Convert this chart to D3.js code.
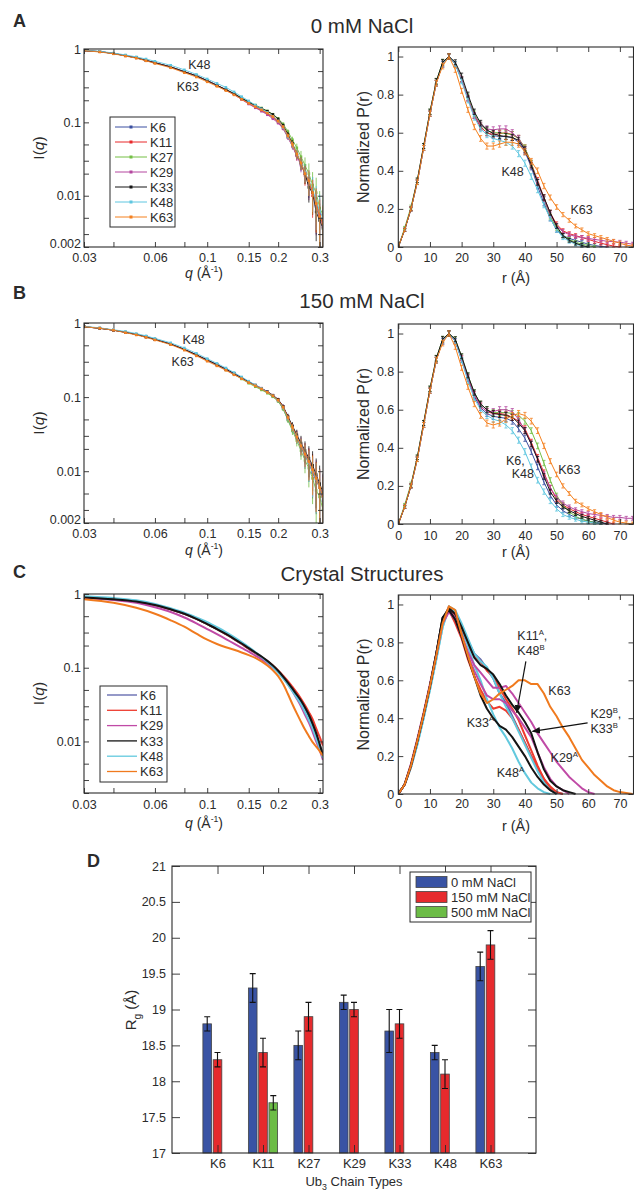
<!DOCTYPE html>
<html><head><meta charset="utf-8">
<script src="https://cdn.jsdelivr.net/npm/d3@7/dist/d3.min.js"></script>
<style>html,body{margin:0;padding:0;background:#fff;}svg{display:block;}</style>
</head><body>
<svg id="fig" width="634" height="1192"></svg>
<script>
// ================= DATA =================
const seriesNames = ["K6","K11","K27","K29","K33","K48","K63"];
const seriesColors = ["#3a4fa0","#e8292b","#74bf45","#b4479f","#141414","#5ec6e0","#f4801f"];
const crystalNames = ["K6","K11","K29","K33","K48","K63"];
const crystalColors = ["#5c62ab","#ee3b2f","#c04aa6","#141414","#62c9de","#f07a1e"];

const qTicks = [0.03,0.04,0.06,0.08,0.1,0.15,0.2,0.3];
const qTickLabels = ["0.03","","0.06","","0.1","0.15","0.2","0.3"];
const iTicks = [1,0.5,0.3,0.2,0.1,0.05,0.03,0.02,0.01,0.005,0.003,0.002];
const iMajorAB = [1,0.1,0.01,0.002];
const iMajorC = [1,0.1,0.01];
const rTicks = [0,10,20,30,40,50,60,70];
const pTicks = [0,0.2,0.4,0.6,0.8,1];
const pTickLabels = ["0","0.2","0.4","0.6","0.8","1"];

const qGrid = [0.030,0.035,0.040,0.045,0.050,0.055,0.060,0.070,0.080,0.090,0.100,0.110,0.120,0.130,0.140,0.150,0.160,0.170,0.180,0.190,0.200,0.210,0.220,0.230,0.240,0.250,0.260,0.270,0.280,0.290,0.300,0.310];

// Panel A, I(q), 0 mM NaCl
const iqA_K6  = [.95,.92,.87,.81,.76,.70,.65,.57,.49,.43,.37,.32,.28,.245,.212,.186,.166,.15,.134,.118,.102,.085,.064,.049,.036,.027,.021,.015,.012,.0075,.0058,.004];
const iqA_K11 = [.95,.92,.87,.81,.76,.70,.65,.57,.49,.43,.37,.32,.279,.243,.208,.18,.16,.145,.13,.116,.1,.083,.063,.048,.035,.028,.019,.016,.01,.008,.0052,.0042];
const iqA_K27 = [.95,.92,.87,.81,.76,.70,.65,.57,.49,.43,.37,.32,.28,.246,.214,.19,.172,.157,.143,.129,.113,.095,.075,.058,.045,.034,.026,.02,.014,.011,.0068,.0055];
const iqA_K29 = [.95,.92,.87,.81,.76,.70,.65,.57,.49,.43,.37,.32,.278,.24,.205,.178,.158,.142,.127,.112,.098,.082,.062,.047,.035,.026,.02,.014,.011,.0072,.0055,.0038];
const iqA_K33 = [.95,.92,.87,.81,.76,.70,.65,.57,.49,.43,.37,.32,.28,.247,.214,.19,.17,.155,.142,.128,.111,.091,.069,.052,.037,.028,.02,.013,.011,.006,.0046,.0036];
const iqA_K48 = [.96,.93,.88,.83,.78,.73,.68,.60,.52,.45,.39,.34,.30,.26,.224,.196,.172,.153,.137,.121,.104,.086,.064,.049,.037,.028,.021,.016,.012,.0085,.0062,.005];
const iqA_K63 = [.95,.91,.86,.80,.75,.69,.635,.555,.475,.415,.357,.31,.271,.237,.206,.182,.163,.148,.134,.12,.104,.087,.066,.05,.037,.028,.02,.016,.011,.0078,.0052,.0042];
const errIqA  = [.008,.008,.008,.008,.008,.008,.008,.009,.01,.01,.012,.012,.014,.016,.018,.02,.022,.026,.03,.035,.045,.055,.075,.1,.14,.2,.28,.38,.5,.6,.7,.75];

// Panel B, I(q), 150 mM NaCl
const iqB_K6  = [.89,.85,.80,.75,.70,.65,.60,.52,.44,.37,.315,.272,.236,.205,.18,.158,.142,.128,.115,.102,.089,.07,.05,.037,.028,.021,.016,.013,.0095,.0075,.006,.004];
const iqB_K11 = [.89,.85,.80,.75,.70,.65,.60,.52,.44,.37,.315,.272,.236,.206,.181,.16,.144,.13,.117,.105,.092,.074,.054,.039,.03,.022,.018,.014,.011,.008,.0062,.0045];
const iqB_K27 = [.89,.85,.80,.75,.70,.65,.60,.52,.44,.37,.313,.27,.233,.202,.176,.154,.138,.125,.113,.101,.088,.069,.049,.035,.026,.019,.014,.011,.008,.0055,.0045,.003];
const iqB_K29 = [.89,.85,.80,.75,.70,.65,.60,.52,.44,.37,.315,.272,.236,.206,.181,.16,.145,.132,.119,.106,.093,.075,.054,.04,.03,.023,.017,.014,.01,.0085,.006,.005];
const iqB_K33 = [.89,.85,.80,.75,.70,.65,.60,.52,.44,.372,.318,.275,.24,.209,.183,.161,.145,.131,.118,.106,.093,.075,.055,.041,.031,.024,.019,.015,.012,.009,.0068,.0052];
const iqB_K48 = [.90,.86,.81,.77,.72,.67,.62,.54,.46,.39,.33,.285,.247,.214,.187,.164,.146,.131,.117,.104,.09,.072,.052,.038,.029,.022,.017,.013,.01,.0078,.006,.0045];
const iqB_K63 = [.89,.85,.80,.74,.69,.64,.59,.51,.43,.36,.305,.264,.23,.2,.177,.157,.142,.129,.116,.104,.091,.073,.053,.039,.029,.022,.017,.0135,.0105,.008,.006,.0046];
const errIqB  = [.008,.008,.008,.008,.008,.008,.008,.009,.01,.01,.012,.012,.014,.016,.018,.02,.022,.026,.03,.035,.05,.06,.085,.12,.17,.25,.33,.45,.55,.65,.75,.8];

// Panel C, I(q), crystal structures
const qCrystal = [0.03,0.04,0.05,0.06,0.07,0.08,0.09,0.10,0.11,0.12,0.13,0.14,0.15,0.16,0.17,0.18,0.19,0.20,0.21,0.22,0.23,0.24,0.25,0.26,0.27,0.28,0.29,0.30,0.31];
const iqC_K6  = [.9,.85,.79,.71,.62,.54,.46,.39,.335,.285,.245,.21,.18,.158,.138,.12,.104,.089,.075,.062,.051,.042,.035,.028,.022,.017,.0125,.009,.0066];
const iqC_K11 = [.9,.85,.79,.71,.62,.54,.46,.39,.335,.285,.245,.21,.181,.159,.14,.123,.107,.092,.078,.066,.055,.046,.038,.031,.025,.02,.015,.0115,.0088];
const iqC_K29 = [.88,.83,.76,.66,.57,.48,.40,.335,.285,.245,.212,.186,.165,.146,.13,.115,.1,.087,.073,.06,.048,.038,.03,.023,.018,.0135,.01,.0076,.0056];
const iqC_K33 = [.9,.85,.79,.71,.62,.54,.46,.39,.335,.287,.247,.213,.184,.161,.142,.124,.107,.091,.076,.063,.052,.043,.036,.029,.023,.0175,.013,.0092,.0065];
const iqC_K48 = [.93,.88,.82,.73,.64,.56,.48,.415,.355,.305,.26,.222,.19,.163,.14,.12,.102,.086,.072,.059,.048,.039,.032,.025,.0195,.015,.011,.0082,.006];
const iqC_K63 = [.85,.76,.65,.54,.44,.36,.29,.24,.21,.19,.175,.161,.148,.136,.122,.107,.092,.077,.06,.044,.032,.024,.0185,.0145,.0118,.0098,.0085,.0074,.0064];

// P(r) grid (Å)
const rGrid = [0,2,4,6,8,10,12,14,16,18,20,22,24,26,28,30,32,34,36,38,40,42,44,46,48,50,52,54,56,58,60,62,64,66,68,70,72,74];
const errPr = [.004,.008,.01,.012,.013,.014,.015,.015,.014,.013,.013,.013,.014,.015,.016,.016,.016,.016,.016,.016,.016,.015,.015,.014,.013,.012,.011,.01,.01,.01,.01,.01,.01,.01,.01,.01,.01,.01];

// Panel A, P(r)
const prA_K6  = [0,.09,.2,.34,.52,.7,.86,.96,1,.96,.88,.78,.69,.63,.6,.585,.58,.58,.575,.55,.5,.42,.32,.23,.15,.09,.06,.045,.035,.025,.015,.008,.003,0];
const prA_K11 = [0,.09,.2,.34,.52,.7,.86,.96,1,.96,.88,.78,.69,.63,.6,.59,.595,.6,.59,.57,.52,.44,.35,.26,.18,.12,.085,.07,.06,.05,.04,.03,.02,.012,.005,0];
const prA_K27 = [0,.1,.21,.35,.53,.71,.87,.97,1,.96,.88,.79,.7,.64,.61,.6,.6,.595,.59,.57,.52,.44,.34,.25,.16,.1,.06,.04,.025,.015,.008,0];
const prA_K29 = [0,.09,.2,.34,.52,.7,.86,.96,1,.96,.88,.78,.69,.64,.62,.615,.62,.62,.6,.57,.51,.43,.34,.25,.17,.11,.08,.065,.055,.05,.045,.04,.035,.03,.028,.025,.02,.015];
const prA_K33 = [0,.09,.2,.35,.53,.71,.87,.97,1,.97,.9,.8,.71,.65,.615,.595,.585,.58,.575,.56,.51,.43,.34,.26,.18,.11,.06,.035,.02,.008,0];
const prA_K48 = [0,.09,.2,.34,.52,.7,.86,.96,1,.96,.87,.77,.68,.62,.59,.57,.56,.55,.53,.49,.44,.37,.3,.22,.15,.09,.05,.03,.015,.005,0];
const prA_K63 = [0,.09,.2,.34,.52,.7,.86,.95,1,.93,.82,.72,.63,.57,.53,.53,.54,.55,.55,.54,.5,.45,.4,.32,.26,.21,.17,.14,.11,.09,.07,.06,.05,.04,.03,.02,.01,.005];

// Panel B, P(r)
const prB_K6  = [0,.09,.2,.34,.52,.7,.86,.96,1,.96,.86,.76,.67,.61,.58,.565,.56,.555,.54,.5,.45,.38,.3,.22,.15,.1,.07,.05,.035,.025,.015,.01,.005,0];
const prB_K11 = [0,.09,.2,.34,.52,.7,.86,.96,1,.96,.87,.77,.68,.62,.59,.58,.58,.575,.56,.54,.5,.43,.35,.27,.19,.13,.1,.08,.065,.05,.04,.03,.02,.01,0];
const prB_K27 = [0,.1,.21,.35,.53,.71,.87,.97,1,.97,.88,.78,.69,.63,.6,.585,.585,.585,.58,.57,.54,.49,.41,.32,.23,.15,.1,.065,.04,.025,.015,.008,0];
const prB_K29 = [0,.09,.2,.34,.52,.7,.86,.96,1,.96,.87,.77,.68,.62,.59,.59,.6,.6,.59,.55,.49,.42,.34,.26,.19,.14,.11,.09,.075,.065,.055,.05,.045,.04,.035,.035,.03,.03];
const prB_K33 = [0,.09,.2,.35,.53,.71,.87,.97,1,.97,.88,.78,.69,.63,.6,.58,.575,.57,.56,.53,.49,.42,.34,.25,.17,.12,.09,.07,.055,.04,.03,.02,.01,0];
const prB_K48 = [0,.09,.2,.34,.52,.7,.86,.96,1,.96,.86,.75,.66,.6,.57,.55,.54,.52,.49,.44,.38,.3,.23,.17,.12,.08,.05,.035,.025,.015,.01,.005,0];
const prB_K63 = [0,.09,.2,.34,.52,.7,.86,.95,1,.93,.82,.72,.63,.57,.53,.52,.53,.55,.57,.58,.57,.54,.49,.41,.33,.26,.2,.16,.12,.1,.08,.065,.05,.035,.02,.01,.005,0];

// Panel C, P(r) crystal structures (conformers A/B)
const prC_K6   = [0,.05,.15,.28,.42,.57,.74,.92,.98,.95,.87,.81,.74,.71,.66,.61,.53,.48,.41,.34,.27,.2,.13,.07,.03,.01,0];
const prC_K11A = [0,.05,.15,.27,.41,.56,.73,.91,.99,.94,.86,.79,.73,.7,.65,.62,.56,.5,.45,.39,.31,.23,.15,.08,.03,0];
const prC_K11B = [0,.05,.14,.27,.41,.56,.72,.9,.97,.9,.82,.71,.62,.55,.49,.45,.46,.44,.4,.34,.27,.2,.14,.08,.04,.01,0];
const prC_K29A = [0,.05,.16,.29,.43,.58,.74,.92,.97,.93,.84,.75,.68,.64,.6,.56,.56,.57,.53,.48,.43,.38,.32,.27,.22,.17,.13,.09,.06,.03,.01,0];
const prC_K29B = [0,.05,.15,.28,.42,.57,.73,.9,.96,.92,.83,.73,.65,.58,.52,.5,.5,.48,.44,.4,.35,.3,.22,.14,.08,.04,.02,0];
const prC_K33A = [0,.05,.15,.28,.42,.57,.74,.93,.97,.92,.83,.72,.62,.52,.45,.4,.36,.34,.3,.25,.2,.14,.09,.05,.02,0];
const prC_K33B = [0,.05,.15,.28,.42,.57,.74,.93,.98,.95,.88,.8,.72,.68,.66,.63,.58,.52,.47,.43,.38,.32,.22,.13,.07,.04,.02,.01,0];
const prC_K48A = [0,.05,.14,.26,.4,.55,.71,.88,.98,.96,.88,.78,.68,.6,.5,.42,.35,.3,.24,.17,.11,.06,.03,.01,0];
const prC_K48B = [0,.05,.14,.26,.4,.55,.71,.88,.99,.97,.9,.82,.74,.7,.67,.61,.53,.46,.4,.33,.26,.19,.12,.06,.02,0];
const prC_K63  = [0,.05,.15,.28,.42,.57,.73,.9,.99,.97,.84,.73,.62,.53,.48,.5,.53,.55,.57,.6,.6,.58,.58,.53,.46,.41,.35,.3,.24,.18,.14,.1,.07,.04,.02,.01,.005,0];

// Panel D, Rg bars
const barCats = ["K6","K11","K27","K29","K33","K48","K63"];
const saltLabels = ["0 mM NaCl","150 mM NaCl","500 mM NaCl"];
const saltColors = ["#3953a4","#e62a2d","#6cbc46"];
const rg0    = [18.8,19.3,18.5,19.1,18.7,18.4,19.6];
const rg0Err = [0.1,0.2,0.2,0.1,0.3,0.1,0.2];
const rg150    = [18.3,18.4,18.9,19.0,18.8,18.1,19.9];
const rg150Err = [0.1,0.2,0.2,0.1,0.2,0.2,0.2];
const rg500    = [null,17.7,null,null,null,null,null];
const rg500Err = [null,0.1,null,null,null,null,null];
const rgTicks = [17,17.5,18,18.5,19,19.5,20,20.5,21];

// ================= DRAWING =================
const svg = d3.select("#fig");
const FONT = "'Liberation Sans', Arial, Helvetica, sans-serif";
const INK = "#2b2b2b";
svg.append("rect").attr("width",634).attr("height",1192).attr("fill","#fff");
const defs = svg.append("defs");
defs.append("marker").attr("id","arrow").attr("viewBox","0 0 10 10").attr("refX",9).attr("refY",5)
  .attr("markerWidth",7).attr("markerHeight",7).attr("orient","auto-start-reverse")
  .append("path").attr("d","M0,1 L10,5 L0,9 Z").attr("fill","#111");

let clipN = 0;
function clip(x0,y0,x1,y1){
  const id = "cl"+(clipN++);
  defs.append("clipPath").attr("id",id).append("rect")
    .attr("x",x0).attr("y",y0).attr("width",x1-x0).attr("height",y1-y0);
  return "url(#"+id+")";
}
function styleAxis(g,size){
  g.attr("font-family",FONT).attr("font-size",size);
  g.select(".domain").remove();
  g.selectAll("line").attr("stroke",INK).attr("stroke-width",0.9);
  g.selectAll("text").attr("fill",INK);
  return g;
}
function frame(x0,y0,x1,y1){
  svg.append("rect").attr("x",x0).attr("y",y0).attr("width",x1-x0).attr("height",y1-y0)
    .attr("fill","none").attr("stroke",INK).attr("stroke-width",1.1);
}
function rich(t,parts,base){
  let cur = 0;
  parts.forEach(([s,k])=>{
    const ts = t.append("tspan").text(s);
    let shift = 0, fs = base;
    if(k==="i") ts.attr("font-style","italic");
    if(k==="sup"){ shift = -base*0.42; fs = base*0.62; }
    if(k==="sub"){ shift = base*0.3; fs = base*0.68; }
    ts.attr("font-size",fs);
    if(shift!==cur){ ts.attr("dy",shift-cur); cur = shift; }
  });
  return t;
}
function txt(x,y,size,opts={}){
  const t = svg.append("text").attr("x",x).attr("y",y).attr("font-family",FONT)
    .attr("font-size",size).attr("fill",opts.fill||INK);
  if(opts.anchor) t.attr("text-anchor",opts.anchor);
  if(opts.weight) t.attr("font-weight",opts.weight);
  if(opts.rotate) t.attr("transform",`rotate(-90,${x},${y})`);
  return t;
}

// ---------- I(q) panel ----------
function iqPanel(p){
  const X0=84, X1=323;
  const x = d3.scaleLog().domain([0.03,0.31]).range([X0,X1]);
  const y = d3.scaleLog().domain([0.002,1]).range([p.bottom,p.top]);
  const g = svg.append("g").attr("clip-path",clip(X0,p.top,X1,p.bottom));
  p.series.forEach(s=>{
    const pts = p.q.map((q,i)=>({q, v:s.vals[i], e: p.err ? p.err[i]*s.vals[i] : 0}));
    if(p.err){
      g.append("g").selectAll("line").data(pts).join("line")
        .attr("x1",d=>x(d.q)).attr("x2",d=>x(d.q))
        .attr("y1",d=>y(Math.max(d.v-d.e,1e-4))).attr("y2",d=>y(d.v+d.e))
        .attr("stroke",s.color).attr("stroke-width",0.8);
    }
    const line = d3.line().x(d=>x(d.q)).y(d=>y(d.v));
    if(p.smooth) line.curve(d3.curveMonotoneX);
    g.append("path").datum(pts).attr("d",line).attr("fill","none")
      .attr("stroke",s.color).attr("stroke-width",p.lw).attr("stroke-linejoin","round");
    if(p.markers){
      g.append("g").selectAll("rect").data(pts).join("rect")
        .attr("x",d=>x(d.q)-1.3).attr("y",d=>y(d.v)-1.3).attr("width",2.6).attr("height",2.6)
        .attr("fill",s.color);
    }
  });
  frame(X0,p.top,X1,p.bottom);
  styleAxis(svg.append("g").attr("transform",`translate(0,${p.bottom})`)
    .call(d3.axisBottom(x).tickValues(qTicks).tickSize(-5).tickPadding(p.xPad)
      .tickFormat((d,i)=>qTickLabels[i])),12.5);
  styleAxis(svg.append("g").attr("transform",`translate(0,${p.top})`)
    .call(d3.axisTop(x).tickValues(qTicks).tickSize(-5).tickFormat("")),12.5);
  const ly = styleAxis(svg.append("g").attr("transform",`translate(${X0},0)`)
    .call(d3.axisLeft(y).tickValues(iTicks).tickSize(-5).tickPadding(3)
      .tickFormat(d=>p.majors.includes(d)?d3.format("~g")(d):"")),12.5);
  // lift the lowest label slightly, as in the original, so it clears the x labels
  ly.selectAll(".tick text").filter(d=>d===0.002).attr("dy","0.06em");
  styleAxis(svg.append("g").attr("transform",`translate(${X1},0)`)
    .call(d3.axisRight(y).tickValues(iTicks).tickSize(-5).tickFormat("")),12.5);
  rich(txt(44,(p.top+p.bottom)/2,15.5,{anchor:"middle",rotate:true}),[["I(",""],["q","i"],[")",""]],15.5);
  rich(txt(204,p.xLabelY,14,{anchor:"middle"}),[["q","i"],[" (Å",""],["-1","sup"],[")",""]],14);
  (p.notes||[]).forEach(n=>{ txt(x(n.q),y(n.v),12.5).text(n.t); });
  return {x,y};
}

// ---------- P(r) panel ----------
function prPanel(p){
  const X0=398.3, X1=633.5;
  const x = d3.scaleLinear().domain([0,74.3]).range([X0,X1]);
  const y = d3.scaleLinear().domain([0,1.05]).range([p.bottom,p.top]);
  const g = svg.append("g").attr("clip-path",clip(X0,p.top,X1,p.bottom+1));
  p.series.forEach(s=>{
    const pts = s.vals.map((v,i)=>({r:rGrid[i], v, e: p.err ? p.err[i] : 0}));
    if(p.err){
      g.append("g").selectAll("path").data(pts).join("path")
        .attr("d",d=>{
          const xx=x(d.r), y1=y(Math.max(d.v-d.e,0)), y2=y(d.v+d.e);
          return `M${xx-1.6},${y1}H${xx+1.6}M${xx},${y1}V${y2}M${xx-1.6},${y2}H${xx+1.6}`;
        })
        .attr("fill","none").attr("stroke",s.color).attr("stroke-width",0.8);
    }
    g.append("path").datum(pts).attr("d",d3.line().x(d=>x(d.r)).y(d=>y(d.v)))
      .attr("fill","none").attr("stroke",s.color).attr("stroke-width",p.lw)
      .attr("stroke-linejoin","round");
  });
  frame(X0,p.top,X1,p.bottom);
  styleAxis(svg.append("g").attr("transform",`translate(0,${p.bottom})`)
    .call(d3.axisBottom(x).tickValues(rTicks).tickSize(-5).tickPadding(p.xPad).tickFormat(d3.format("d"))),12.5);
  styleAxis(svg.append("g").attr("transform",`translate(0,${p.top})`)
    .call(d3.axisTop(x).tickValues(rTicks).tickSize(-5).tickFormat("")),12.5);
  styleAxis(svg.append("g").attr("transform",`translate(${X0},0)`)
    .call(d3.axisLeft(y).tickValues(pTicks).tickSize(-5).tickPadding(4)
      .tickFormat((d,i)=>pTickLabels[i])),12.5);
  styleAxis(svg.append("g").attr("transform",`translate(${X1},0)`)
    .call(d3.axisRight(y).tickValues(pTicks).tickSize(-5).tickFormat("")),12.5);
  txt(369,(p.top+p.bottom)/2,16,{anchor:"middle",rotate:true}).text("Normalized P(r)");
  txt(516,p.xLabelY,14.5,{anchor:"middle"}).text("r (Å)");
  (p.notes||[]).forEach(n=>{ rich(txt(x(n.r),y(n.v),12.5),n.parts,12.5); });
  (p.arrows||[]).forEach(a=>{
    svg.append("line").attr("x1",x(a.r1)).attr("y1",y(a.v1)).attr("x2",x(a.r2)).attr("y2",y(a.v2))
      .attr("stroke","#111").attr("stroke-width",1.2).attr("marker-end","url(#arrow)");
  });
  return {x,y};
}

function legendLines(x0,y0,x1,y1,names,colors,rowY,dy,lineX0,lineX1,textX,markers,lw){
  svg.append("rect").attr("x",x0).attr("y",y0).attr("width",x1-x0).attr("height",y1-y0)
    .attr("fill","#fff").attr("stroke",INK).attr("stroke-width",1);
  names.forEach((n,i)=>{
    const yy = rowY+i*dy;
    svg.append("line").attr("x1",lineX0).attr("x2",lineX1).attr("y1",yy).attr("y2",yy)
      .attr("stroke",colors[i]).attr("stroke-width",lw);
    if(markers) svg.append("rect").attr("x",(lineX0+lineX1)/2-1.5).attr("y",yy-1.5)
      .attr("width",3).attr("height",3).attr("fill",colors[i]);
    txt(textX,yy+4.6,13).text(n);
  });
}

const seriesA = [iqA_K6,iqA_K11,iqA_K27,iqA_K29,iqA_K33,iqA_K48,iqA_K63].map((v,i)=>({name:seriesNames[i],color:seriesColors[i],vals:v}));
const seriesB = [iqB_K6,iqB_K11,iqB_K27,iqB_K29,iqB_K33,iqB_K48,iqB_K63].map((v,i)=>({name:seriesNames[i],color:seriesColors[i],vals:v}));
const seriesC = [iqC_K6,iqC_K11,iqC_K29,iqC_K48,iqC_K33,iqC_K63].map((v,i)=>{
  const idx=[0,1,2,4,3,5][i]; return {name:crystalNames[idx],color:crystalColors[idx],vals:v};});
const prSeriesA = [prA_K6,prA_K11,prA_K27,prA_K29,prA_K48,prA_K33,prA_K63].map((v,i)=>{
  const idx=[0,1,2,3,5,4,6][i]; return {color:seriesColors[idx],vals:v};});
const prSeriesB = [prB_K6,prB_K11,prB_K27,prB_K29,prB_K48,prB_K33,prB_K63].map((v,i)=>{
  const idx=[0,1,2,3,5,4,6][i]; return {color:seriesColors[idx],vals:v};});
const prSeriesC = [
  {color:crystalColors[0],vals:prC_K6},{color:crystalColors[1],vals:prC_K11A},{color:crystalColors[1],vals:prC_K11B},
  {color:crystalColors[4],vals:prC_K48A},{color:crystalColors[4],vals:prC_K48B},
  {color:crystalColors[2],vals:prC_K29A},{color:crystalColors[2],vals:prC_K29B},
  {color:crystalColors[3],vals:prC_K33A},{color:crystalColors[3],vals:prC_K33B},
  {color:crystalColors[5],vals:prC_K63}];

// Panel letters and titles
[["A",27],["B",299],["C",578]].forEach(([l,yy])=>txt(13,yy,18,{weight:"bold"}).text(l));
txt(87,867,18,{weight:"bold"}).text("D");
txt(362,33,20.5,{anchor:"middle"}).text("0 mM NaCl");
txt(362,308,20.5,{anchor:"middle"}).text("150 mM NaCl");
txt(362,581,20.5,{anchor:"middle"}).text("Crystal Structures");

// Row A
iqPanel({top:49,bottom:247,series:seriesA,q:qGrid,err:errIqA,markers:true,lw:0.9,majors:iMajorAB,xPad:6,xLabelY:278,
  notes:[{q:0.083,v:0.53,t:"K48"},{q:0.0742,v:0.27,t:"K63"}]});
legendLines(110,117,175,227,seriesNames,seriesColors,127,15,115,147,150,true,1);
prPanel({top:47,bottom:247,series:prSeriesA,err:errPr,lw:1,xPad:6,xLabelY:283,
  notes:[{r:32.6,v:0.375,parts:[["K48",""]]},{r:54.4,v:0.175,parts:[["K63",""]]}]});

// Row B
iqPanel({top:323,bottom:523,series:seriesB,q:qGrid,err:errIqB,markers:true,lw:0.9,majors:iMajorAB,xPad:6,xLabelY:555,
  notes:[{q:0.0786,v:0.52,t:"K48"},{q:0.0706,v:0.263,t:"K63"}]});
prPanel({top:324,bottom:524,series:prSeriesB,err:errPr,lw:1,xPad:7,xLabelY:557,
  notes:[{r:34,v:0.31,parts:[["K6,",""]]},{r:35.8,v:0.24,parts:[["K48",""]]},{r:50.5,v:0.26,parts:[["K63",""]]}]});

// Row C
iqPanel({top:594,bottom:793,series:seriesC,q:qCrystal,err:null,markers:false,smooth:true,lw:2,majors:iMajorC,xPad:7,xLabelY:828});
legendLines(100,686,167,782,crystalNames,crystalColors,695,15.3,107,137,140,false,1.3);
prPanel({top:595,bottom:794,series:prSeriesC,err:null,lw:2,xPad:5,xLabelY:831,
  notes:[
    {r:37.6,v:0.81,parts:[["K11",""],["A","sup"],[",",""]]},
    {r:37.6,v:0.733,parts:[["K48",""],["B","sup"]]},
    {r:47.4,v:0.52,parts:[["K63",""]]},
    {r:60.7,v:0.40,parts:[["K29",""],["B","sup"],[",",""]]},
    {r:60.7,v:0.32,parts:[["K33",""],["B","sup"]]},
    {r:21.6,v:0.355,parts:[["K33",""],["A","sup"]]},
    {r:48.1,v:0.17,parts:[["K29",""],["A","sup"]]},
    {r:31.1,v:0.09,parts:[["K48",""],["A","sup"]]}],
  arrows:[{r1:40.3,v1:0.70,r2:37.4,v2:0.43},{r1:59.8,v1:0.375,r2:42.4,v2:0.33}]});

// ---------- Panel D ----------
(function(){
  const X0=172,X1=536,Y0=866,Y1=1153;
  const x = d3.scaleLinear().domain([0,8]).range([X0,X1]);
  const y = d3.scaleLinear().domain([17,21]).range([Y1,Y0]);
  const groups = [
    {vals:rg0,err:rg0Err,color:saltColors[0],off:-0.226},
    {vals:rg150,err:rg150Err,color:saltColors[1],off:0},
    {vals:rg500,err:rg500Err,color:saltColors[2],off:0.226}];
  const bw = 0.19;
  groups.forEach(gr=>{
    const data = gr.vals.map((v,i)=>({c:i+1,v,e:gr.err[i]})).filter(d=>d.v!=null);
    svg.append("g").selectAll("rect").data(data).join("rect")
      .attr("x",d=>x(d.c+gr.off-bw/2)).attr("width",x(bw)-x(0))
      .attr("y",d=>y(d.v)).attr("height",d=>y(17)-y(d.v))
      .attr("fill",gr.color).attr("stroke","#444").attr("stroke-width",0.8);
    svg.append("g").selectAll("path").data(data).join("path")
      .attr("d",d=>{const xx=x(d.c+gr.off), a=y(d.v-d.e), b=y(d.v+d.e);
        return `M${xx-3},${a}H${xx+3}M${xx},${a}V${b}M${xx-3},${b}H${xx+3}`;})
      .attr("fill","none").attr("stroke","#111").attr("stroke-width",1.1);
  });
  frame(X0,Y0,X1,Y1);
  const cats = barCats.map((c,i)=>i+1);
  styleAxis(svg.append("g").attr("transform",`translate(0,${Y1})`)
    .call(d3.axisBottom(x).tickValues(cats).tickSize(-8).tickPadding(6).tickFormat((d,i)=>barCats[i])),13);
  styleAxis(svg.append("g").attr("transform",`translate(0,${Y0})`)
    .call(d3.axisTop(x).tickValues(cats).tickSize(-8).tickFormat("")),13);
  styleAxis(svg.append("g").attr("transform",`translate(${X0},0)`)
    .call(d3.axisLeft(y).tickValues(rgTicks).tickSize(-8).tickPadding(6).tickFormat(d3.format("~g"))),12.5);
  styleAxis(svg.append("g").attr("transform",`translate(${X1},0)`)
    .call(d3.axisRight(y).tickValues(rgTicks).tickSize(-8).tickFormat("")),12.5);
  rich(txt(136,1010,15,{anchor:"middle",rotate:true}),[["R",""],["g","sub"],[" (Å)",""]],15);
  rich(txt(354,1186,13,{anchor:"middle"}),[["Ub",""],["3","sub"],[" Chain Types",""]],13);
  // legend
  svg.append("rect").attr("x",410).attr("y",872).attr("width",121).attr("height",50)
    .attr("fill","#fff").attr("stroke",INK).attr("stroke-width",1);
  saltLabels.forEach((s,i)=>{
    const yy = 882+i*15;
    svg.append("rect").attr("x",416).attr("y",yy-5.5).attr("width",31).attr("height",11)
      .attr("fill",saltColors[i]).attr("stroke","#444").attr("stroke-width",0.8);
    txt(451,yy+4.8,13).text(s);
  });
})();
</script>
</body></html>
